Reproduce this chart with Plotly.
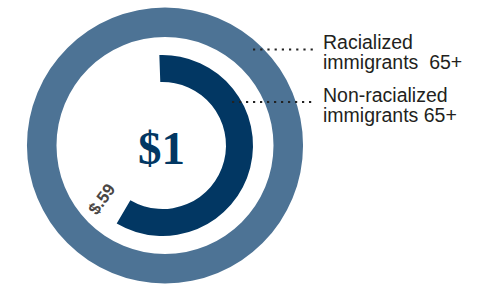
import plotly.graph_objects as go

W, H = 480, 287

# Data
outer_label = "Racialized immigrants 65+"
inner_label = "Non-racialized immigrants 65+"
outer_value = 1.00
inner_value = 0.59
center_text = "$1"
inner_text = "$.59"
legend_lines_outer = ["Racialized", "immigrants\u00a0\u00a065+"]
legend_lines_inner = ["Non-racialized", "immigrants 65+"]

OUTER_COLOR = "#4d7395"
INNER_COLOR = "#023763"

def px_x(x):
    return x / W

def px_y(y):
    return 1 - y / H

def domain(cx, cy, r):
    return dict(x=[px_x(cx - r), px_x(cx + r)], y=[px_y(cy + r), px_y(cy - r)])

fig = go.Figure()

fig.add_trace(go.Pie(
    values=[outer_value],
    labels=[outer_label],
    marker=dict(colors=[OUTER_COLOR], line=dict(width=0)),
    hole=108.5 / 138,
    domain=domain(165, 145.5, 138),
    sort=False, direction="clockwise", rotation=0,
    textinfo="none", hoverinfo="none", showlegend=False,
))

fig.add_trace(go.Pie(
    values=[inner_value, outer_value - inner_value],
    labels=[inner_label, "rest"],
    marker=dict(colors=[INNER_COLOR, "rgba(0,0,0,0)"], line=dict(width=0)),
    hole=63.5 / 90.5,
    domain=domain(162.5, 145.5, 90.5),
    sort=False, direction="clockwise", rotation=-2,
    textinfo="none", hoverinfo="none", showlegend=False,
))

annotations = [
    dict(text="<b>" + center_text + "</b>", x=px_x(161), y=px_y(147.5),
         font=dict(family="Liberation Serif", size=47, color=INNER_COLOR)),
    dict(text="<b>" + inner_text + "</b>", x=px_x(101.5), y=px_y(199), textangle=-54,
         font=dict(family="Liberation Sans", size=17, color="#4a4644")),
]
for i, (line, yc) in enumerate(zip(legend_lines_outer + legend_lines_inner, [42, 62, 94.7, 114.7])):
    annotations.append(dict(text=line, x=px_x(321), y=px_y(yc), xanchor="left",
                            font=dict(family="Liberation Sans", size=19.5, color="#231f20")))
for a in annotations:
    a.setdefault("xanchor", "center")
    a.update(xref="paper", yref="paper", yanchor="middle", showarrow=False)

shapes = [
    dict(type="line", xref="paper", yref="paper", x0=px_x(253), x1=px_x(314),
         y0=px_y(49.5), y1=px_y(49.5), line=dict(color="#222222", width=2.2, dash="2.2px,5px")),
    dict(type="line", xref="paper", yref="paper", x0=px_x(232), x1=px_x(314),
         y0=px_y(102), y1=px_y(102), line=dict(color="#222222", width=2.2, dash="2.2px,4.8px")),
]

fig.update_layout(
    width=W, height=H,
    margin=dict(l=0, r=0, t=0, b=0),
    paper_bgcolor="white", plot_bgcolor="white",
    annotations=annotations, shapes=shapes,
)

fig.write_html(
    "out.html",
    config={"displayModeBar": False},
    post_script="document.body.style.margin='0';document.body.style.overflow='hidden';",
)
